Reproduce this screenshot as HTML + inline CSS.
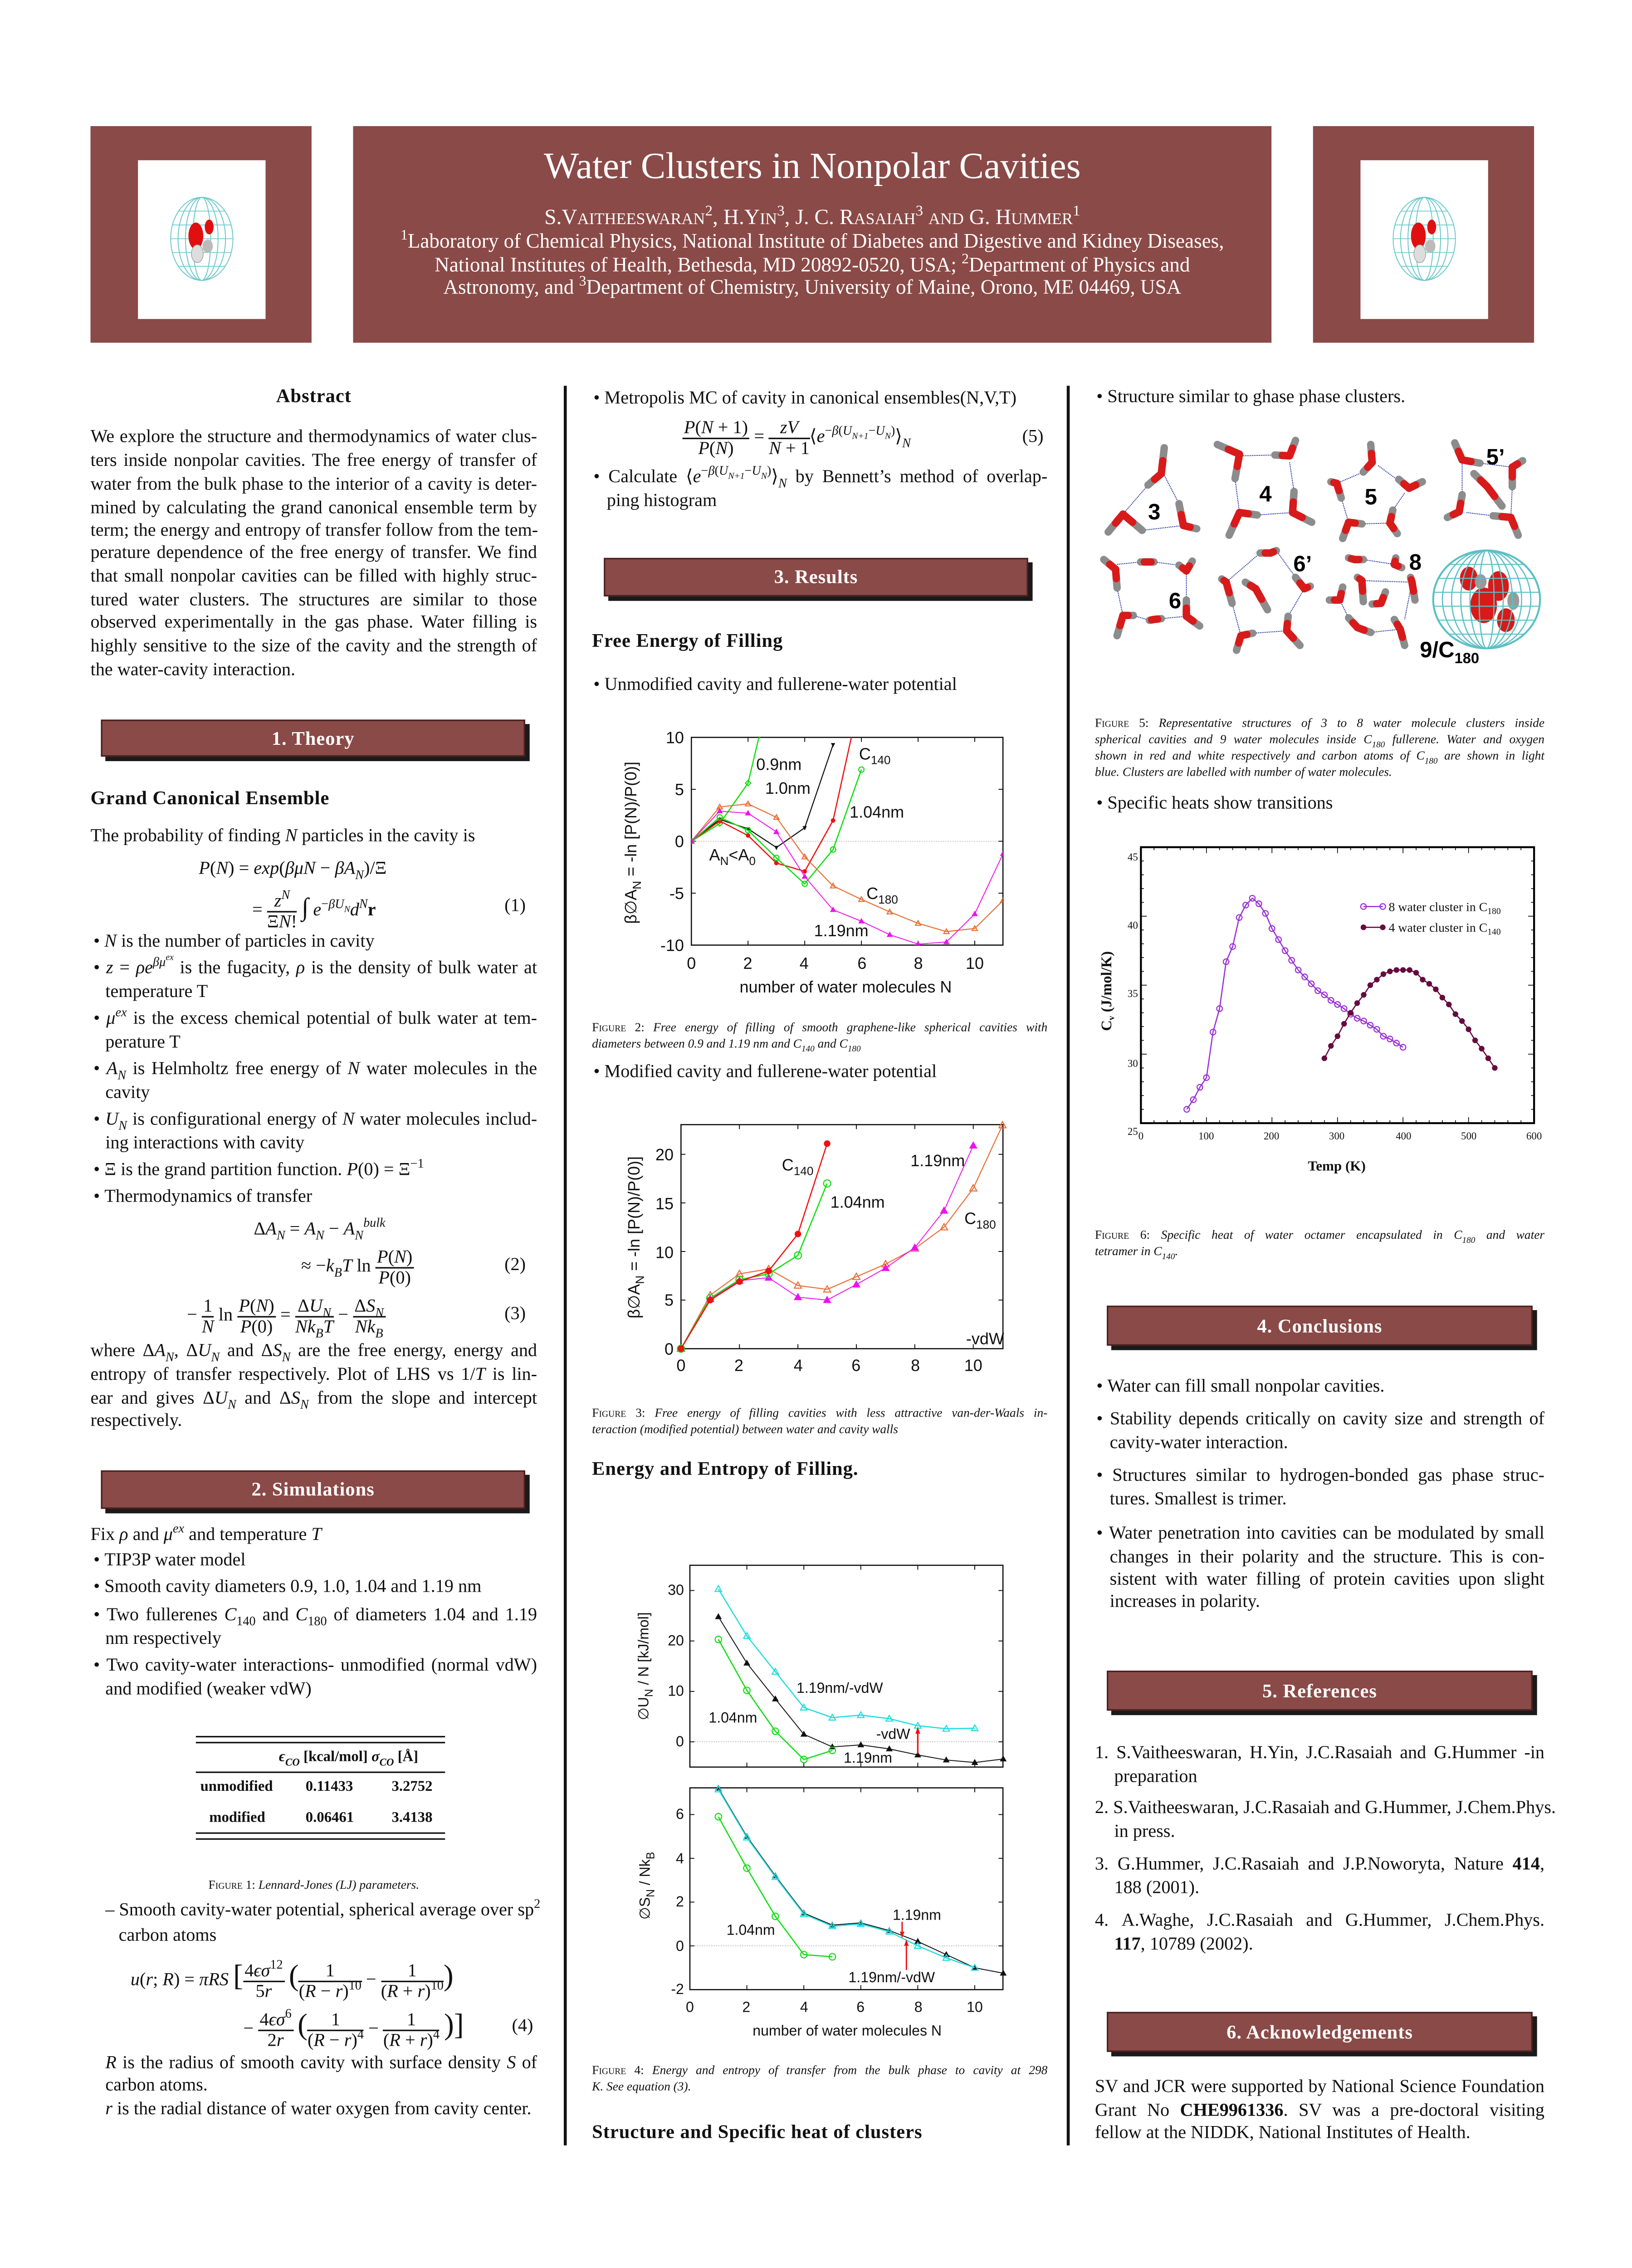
<!DOCTYPE html>
<html><head><meta charset="utf-8">
<style>
html,body{margin:0;padding:0;background:#fff;width:3598px;height:5090px;overflow:hidden}
#p{position:absolute;left:0;top:0;width:1100px;height:1556px;overflow:hidden;transform:scale(3.27091);transform-origin:0 0;font-family:"Liberation Serif",serif;font-size:12.3px;color:#111}
.a{position:absolute;white-space:nowrap;line-height:16px}
.j{text-align:justify;text-align-last:justify}
.box{position:absolute;background:#8a4a47;border:1px solid #4a2020;box-shadow:3px 3px 0 #1a1a1a;color:#fff;font-weight:bold;font-size:13px;text-align:center;letter-spacing:.3px}
.h{font-weight:bold;font-size:13px;letter-spacing:.3px}
i{font-style:italic}
.cap{font-size:8.4px;line-height:11px}
.sc{font-variant:small-caps}
.fr{display:inline-block;vertical-align:middle;text-align:center;line-height:13px}
.fr>span{display:block}
.fr>span:first-child{border-bottom:0.8px solid #111;padding:0 1px}
sub,sup{font-size:70%;line-height:0}
.vl{position:absolute;width:2px;background:#111;top:260px;height:1186px}
</style></head><body><div id="p">

<!-- header -->
<div style="position:absolute;left:61px;top:85px;width:149px;height:146px;background:#8a4a47"></div>
<div style="position:absolute;left:93px;top:108px;width:86px;height:107px;background:#fff"></div>
<div style="position:absolute;left:238px;top:85px;width:619px;height:146px;background:#8a4a47"></div>
<div style="position:absolute;left:885px;top:85px;width:149px;height:146px;background:#8a4a47"></div>
<div style="position:absolute;left:917px;top:108px;width:86px;height:107px;background:#fff"></div>
<div class="a" style="left:238px;width:619px;top:97px;text-align:center;color:#fff;font-size:25px;line-height:32px">Water Clusters in Nonpolar Cavities</div>
<div class="a" style="left:238px;width:619px;top:138px;text-align:center;color:#fff;font-size:14.5px;line-height:18px">S.V<span style="font-size:11px">AITHEESWARAN</span><sup>2</sup>, H.Y<span style="font-size:11px">IN</span><sup>3</sup>, J. C. R<span style="font-size:11px">ASAIAH</span><sup>3</sup> <span style="font-size:11px">AND</span> G. H<span style="font-size:11px">UMMER</span><sup>1</sup></div>
<div class="a" style="left:238px;width:619px;top:155px;text-align:center;color:#fff;font-size:13.8px;line-height:15.6px"><sup>1</sup>Laboratory of Chemical Physics, National Institute of Diabetes and Digestive and Kidney Diseases,<br>National Institutes of Health, Bethesda, MD 20892-0520, USA; <sup>2</sup>Department of Physics and<br>Astronomy, and <sup>3</sup>Department of Chemistry, University of Maine, Orono, ME 04469, USA</div>

<div class="vl" style="left:380px"></div>
<div class="vl" style="left:719px"></div>

<!-- COLUMN 1 -->
<div class="a h" style="left:61px;width:301px;top:259px;text-align:center">Abstract</div>
<div class="a j" style="left:61px;width:301px;top:286px">We explore the structure and thermodynamics of water clus-</div>
<div class="a j" style="left:61px;width:301px;top:302px">ters inside nonpolar cavities. The free energy of transfer of</div>
<div class="a j" style="left:61px;width:301px;top:318px">water from the bulk phase to the interior of a cavity is deter-</div>
<div class="a j" style="left:61px;width:301px;top:334px">mined by calculating the grand canonical ensemble term by</div>
<div class="a j" style="left:61px;width:301px;top:349px">term; the energy and entropy of transfer follow from the tem-</div>
<div class="a j" style="left:61px;width:301px;top:364px">perature dependence of the free energy of transfer. We find</div>
<div class="a j" style="left:61px;width:301px;top:380px">that small nonpolar cavities can be filled with highly struc-</div>
<div class="a j" style="left:61px;width:301px;top:396px">tured water clusters. The structures are similar to those</div>
<div class="a j" style="left:61px;width:301px;top:411px">observed experimentally in the gas phase. Water filling is</div>
<div class="a j" style="left:61px;width:301px;top:427px">highly sensitive to the size of the cavity and the strength of</div>
<div class="a" style="left:61px;top:443px">the water-cavity interaction.</div>

<div class="box" style="left:68px;top:485px;width:284px;height:23px;line-height:23px">1. Theory</div>

<div class="a h" style="left:61px;top:530px">Grand Canonical Ensemble</div>
<div class="a" style="left:61px;top:555px">The probability of finding <i>N</i> particles in the cavity is</div>
<div class="a" style="left:134px;top:577px"><i>P</i>(<i>N</i>) = <i>exp</i>(<i>βμN</i> − <i>βA<sub>N</sub></i>)/Ξ</div>
<div class="a" style="left:170px;top:599px;line-height:26px">= <span class="fr"><span><i>z<sup>N</sup></i></span><span>Ξ<i>N</i>!</span></span> <span style="font-size:17px">∫</span> <i>e</i><sup>−<i>βU<sub>N</sub></i></sup><i>d<sup>N</sup></i><b>r</b></div>
<div class="a" style="left:340px;top:602px">(1)</div>
<div class="a" style="left:63px;top:626px">•&nbsp;<i>N</i> is the number of particles in cavity</div>
<div class="a j" style="left:63px;width:299px;top:644px">•&nbsp;<i>z</i> = <i>ρe<sup>βμ<sup>ex</sup></sup></i> is the fugacity, <i>ρ</i> is the density of bulk water at</div>
<div class="a" style="left:71px;top:660px">temperature T</div>
<div class="a j" style="left:63px;width:299px;top:678px">•&nbsp;<i>μ<sup>ex</sup></i> is the excess chemical potential of bulk water at tem-</div>
<div class="a" style="left:71px;top:694px">perature T</div>
<div class="a j" style="left:63px;width:299px;top:712px">•&nbsp;<i>A<sub>N</sub></i> is Helmholtz free energy of <i>N</i> water molecules in the</div>
<div class="a" style="left:71px;top:728px">cavity</div>
<div class="a j" style="left:63px;width:299px;top:746px">•&nbsp;<i>U<sub>N</sub></i> is configurational energy of <i>N</i> water molecules includ-</div>
<div class="a" style="left:71px;top:762px">ing interactions with cavity</div>
<div class="a" style="left:63px;top:780px">•&nbsp;Ξ is the grand partition function. <i>P</i>(0) = Ξ<sup>−1</sup></div>
<div class="a" style="left:63px;top:798px">•&nbsp;Thermodynamics of transfer</div>
<div class="a" style="left:171px;top:820px">Δ<i>A<sub>N</sub></i> = <i>A<sub>N</sub></i> − <i>A<sub>N</sub><sup>bulk</sup></i></div>
<div class="a" style="left:203px;top:840px;line-height:26px">≈ −<i>k<sub>B</sub>T</i> ln <span class="fr"><span><i>P</i>(<i>N</i>)</span><span><i>P</i>(0)</span></span></div>
<div class="a" style="left:340px;top:844px">(2)</div>
<div class="a" style="left:126px;top:873px;line-height:26px">− <span class="fr"><span>1</span><span><i>N</i></span></span> ln <span class="fr"><span><i>P</i>(<i>N</i>)</span><span><i>P</i>(0)</span></span> = <span class="fr"><span>Δ<i>U<sub>N</sub></i></span><span><i>Nk<sub>B</sub>T</i></span></span> − <span class="fr"><span>Δ<i>S<sub>N</sub></i></span><span><i>Nk<sub>B</sub></i></span></span></div>
<div class="a" style="left:340px;top:877px">(3)</div>
<div class="a j" style="left:61px;width:301px;top:902px">where Δ<i>A<sub>N</sub></i>, Δ<i>U<sub>N</sub></i> and Δ<i>S<sub>N</sub></i> are the free energy, energy and</div>
<div class="a j" style="left:61px;width:301px;top:918px">entropy of transfer respectively. Plot of LHS vs 1/<i>T</i> is lin-</div>
<div class="a j" style="left:61px;width:301px;top:934px">ear and gives Δ<i>U<sub>N</sub></i> and Δ<i>S<sub>N</sub></i> from the slope and intercept</div>
<div class="a" style="left:61px;top:949px">respectively.</div>

<div class="box" style="left:68px;top:991px;width:284px;height:24px;line-height:24px">2. Simulations</div>

<div class="a" style="left:61px;top:1026px">Fix <i>ρ</i> and <i>μ<sup>ex</sup></i> and temperature <i>T</i></div>
<div class="a" style="left:63px;top:1043px">•&nbsp;TIP3P water model</div>
<div class="a" style="left:63px;top:1061px">•&nbsp;Smooth cavity diameters 0.9, 1.0, 1.04 and 1.19 nm</div>
<div class="a j" style="left:63px;width:299px;top:1080px">•&nbsp;Two fullerenes <i>C</i><sub>140</sub> and <i>C</i><sub>180</sub> of diameters 1.04 and 1.19</div>
<div class="a" style="left:71px;top:1096px">nm respectively</div>
<div class="a j" style="left:63px;width:299px;top:1114px">•&nbsp;Two cavity-water interactions- unmodified (normal vdW)</div>
<div class="a" style="left:71px;top:1130px">and modified (weaker vdW)</div>
<div style="position:absolute;left:132px;top:1170px;width:168px;height:3px;border-top:.8px solid #111;border-bottom:.8px solid #111"></div>
<div style="position:absolute;left:132px;top:1194px;width:168px;border-top:.8px solid #111"></div>
<div style="position:absolute;left:132px;top:1235px;width:168px;height:3px;border-top:.8px solid #111;border-bottom:.8px solid #111"></div>
<div class="a" style="left:188px;top:1177px;font-size:10px;font-weight:bold"><i>ϵ<sub>CO</sub></i> [kcal/mol] <i>σ<sub>CO</sub></i> [Å]</div>
<div class="a" style="left:135px;top:1197px;font-size:10px;font-weight:bold">unmodified</div>
<div class="a" style="left:206px;top:1197px;font-size:10px;font-weight:bold">0.11433</div>
<div class="a" style="left:264px;top:1197px;font-size:10px;font-weight:bold">3.2752</div>
<div class="a" style="left:141px;top:1218px;font-size:10px;font-weight:bold">modified</div>
<div class="a" style="left:206px;top:1218px;font-size:10px;font-weight:bold">0.06461</div>
<div class="a" style="left:264px;top:1218px;font-size:10px;font-weight:bold">3.4138</div>
<div class="a cap" style="left:61px;width:301px;top:1265px;text-align:center"><span class="sc">Figure</span> 1: <i>Lennard-Jones (LJ) parameters.</i></div>
<div class="a j" style="left:71px;width:291px;top:1279px">–&nbsp;Smooth cavity-water potential, spherical average over sp<sup>2</sup></div>
<div class="a" style="left:80px;top:1296px">carbon atoms</div>
<div class="a" style="left:88px;top:1318px;line-height:28px"><i>u</i>(<i>r</i>; <i>R</i>) = <i>πRS</i> <span style="font-size:20px">[</span><span class="fr"><span>4<i>ϵσ</i><sup>12</sup></span><span>5<i>r</i></span></span> <span style="font-size:20px">(</span><span class="fr"><span>1</span><span>(<i>R</i> − <i>r</i>)<sup>10</sup></span></span> − <span class="fr"><span>1</span><span>(<i>R</i> + <i>r</i>)<sup>10</sup></span></span><span style="font-size:20px">)</span></div>
<div class="a" style="left:164px;top:1351px;line-height:28px">− <span class="fr"><span>4<i>ϵσ</i><sup>6</sup></span><span>2<i>r</i></span></span> <span style="font-size:20px">(</span><span class="fr"><span>1</span><span>(<i>R</i> − <i>r</i>)<sup>4</sup></span></span> − <span class="fr"><span>1</span><span>(<i>R</i> + <i>r</i>)<sup>4</sup></span></span> <span style="font-size:20px">)]</span></div>
<div class="a" style="left:345px;top:1357px">(4)</div>
<div class="a j" style="left:71px;width:291px;top:1382px"><i>R</i> is the radius of smooth cavity with surface density <i>S</i> of</div>
<div class="a" style="left:71px;top:1397px">carbon atoms.</div>
<div class="a" style="left:71px;top:1413px"><i>r</i> is the radial distance of water oxygen from cavity center.</div>

<!-- COLUMN 2 -->
<div class="a" style="left:400px;top:260px">•&nbsp;Metropolis MC of cavity in canonical ensembles(N,V,T)</div>
<div class="a" style="left:460px;top:281px;line-height:26px"><span class="fr"><span><i>P</i>(<i>N</i> + 1)</span><span><i>P</i>(<i>N</i>)</span></span> = <span class="fr"><span><i>zV</i></span><span><i>N</i> + 1</span></span>⟨<i>e</i><sup>−<i>β</i>(<i>U<sub>N+1</sub></i>−<i>U<sub>N</sub></i>)</sup>⟩<sub><i>N</i></sub></div>
<div class="a" style="left:689px;top:286px">(5)</div>
<div class="a j" style="left:400px;width:306px;top:313px">•&nbsp;Calculate ⟨<i>e</i><sup>−<i>β</i>(<i>U<sub>N+1</sub></i>−<i>U<sub>N</sub></i>)</sup>⟩<sub><i>N</i></sub> by Bennett’s method of overlap-</div>
<div class="a" style="left:409px;top:329px">ping histogram</div>
<div class="box" style="left:407px;top:376px;width:284px;height:24px;line-height:24px">3. Results</div>
<div class="a h" style="left:399px;top:424px">Free Energy of Filling</div>
<div class="a" style="left:400px;top:453px">•&nbsp;Unmodified cavity and fullerene-water potential</div>
<div class="a cap j" style="left:399px;width:307px;top:687px"><span class="sc">Figure</span> 2: <i>Free energy of filling of smooth graphene-like spherical cavities with</i></div>
<div class="a cap" style="left:399px;top:698px"><i>diameters between 0.9 and 1.19 nm and C<sub>140</sub> and C<sub>180</sub></i></div>
<div class="a" style="left:400px;top:714px">•&nbsp;Modified cavity and fullerene-water potential</div>
<div class="a cap j" style="left:399px;width:307px;top:947px"><span class="sc">Figure</span> 3: <i>Free energy of filling cavities with less attractive van-der-Waals in-</i></div>
<div class="a cap" style="left:399px;top:958px"><i>teraction (modified potential) between water and cavity walls</i></div>
<div class="a h" style="left:399px;top:982px">Energy and Entropy of Filling.</div>
<div class="a cap j" style="left:399px;width:307px;top:1390px"><span class="sc">Figure</span> 4: <i>Energy and entropy of transfer from the bulk phase to cavity at 298</i></div>
<div class="a cap" style="left:399px;top:1401px"><i>K. See equation (3).</i></div>
<div class="a h" style="left:399px;top:1429px">Structure and Specific heat of clusters</div>

<!-- COLUMN 3 -->
<div class="a" style="left:739px;top:259px">•&nbsp;Structure similar to ghase phase clusters.</div>
<div class="a cap j" style="left:738px;width:303px;top:482px"><span class="sc">Figure</span> 5: <i>Representative structures of 3 to 8 water molecule clusters inside</i></div>
<div class="a cap j" style="left:738px;width:303px;top:493px"><i>spherical cavities and 9 water molecules inside C<sub>180</sub> fullerene. Water and oxygen</i></div>
<div class="a cap j" style="left:738px;width:303px;top:504px"><i>shown in red and white respectively and carbon atoms of C<sub>180</sub> are shown in light</i></div>
<div class="a cap" style="left:738px;top:515px"><i>blue. Clusters are labelled with number of water molecules.</i></div>
<div class="a" style="left:739px;top:533px">•&nbsp;Specific heats show transitions</div>
<div class="a cap j" style="left:738px;width:303px;top:827px"><span class="sc">Figure</span> 6: <i>Specific heat of water octamer encapsulated in C<sub>180</sub> and water</i></div>
<div class="a cap" style="left:738px;top:838px"><i>tetramer in C<sub>140</sub>.</i></div>
<div class="box" style="left:746px;top:880px;width:285px;height:25px;line-height:25px">4. Conclusions</div>
<div class="a" style="left:739px;top:926px">•&nbsp;Water can fill small nonpolar cavities.</div>
<div class="a j" style="left:739px;width:302px;top:948px">•&nbsp;Stability depends critically on cavity size and strength of</div>
<div class="a" style="left:748px;top:964px">cavity-water interaction.</div>
<div class="a j" style="left:739px;width:302px;top:986px">•&nbsp;Structures similar to hydrogen-bonded gas phase struc-</div>
<div class="a" style="left:748px;top:1002px">tures. Smallest is trimer.</div>
<div class="a j" style="left:739px;width:302px;top:1025px">•&nbsp;Water penetration into cavities can be modulated by small</div>
<div class="a j" style="left:748px;width:293px;top:1041px">changes in their polarity and the structure. This is con-</div>
<div class="a j" style="left:748px;width:293px;top:1056px">sistent with water filling of protein cavities upon slight</div>
<div class="a" style="left:748px;top:1071px">increases in polarity.</div>
<div class="box" style="left:746px;top:1126px;width:285px;height:25px;line-height:25px">5. References</div>
<div class="a j" style="left:738px;width:303px;top:1173px">1.&nbsp;S.Vaitheeswaran, H.Yin, J.C.Rasaiah and G.Hummer -in</div>
<div class="a" style="left:751px;top:1189px">preparation</div>
<div class="a j" style="left:738px;width:303px;top:1210px">2.&nbsp;S.Vaitheeswaran, J.C.Rasaiah and G.Hummer, J.Chem.Phys.</div>
<div class="a" style="left:751px;top:1226px">in press.</div>
<div class="a j" style="left:738px;width:303px;top:1248px">3.&nbsp;G.Hummer, J.C.Rasaiah and J.P.Noworyta, Nature <b>414</b>,</div>
<div class="a" style="left:751px;top:1264px">188 (2001).</div>
<div class="a j" style="left:738px;width:303px;top:1286px">4.&nbsp;A.Waghe, J.C.Rasaiah and G.Hummer, J.Chem.Phys.</div>
<div class="a" style="left:751px;top:1302px"><b>117</b>, 10789 (2002).</div>
<div class="box" style="left:746px;top:1356px;width:285px;height:25px;line-height:25px">6. Acknowledgements</div>
<div class="a j" style="left:738px;width:303px;top:1398px">SV and JCR were supported by National Science Foundation</div>
<div class="a j" style="left:738px;width:303px;top:1414px">Grant No <b>CHE9961336</b>. SV was a pre-doctoral visiting</div>
<div class="a" style="left:738px;top:1429px">fellow at the NIDDK, National Institutes of Health.</div>

<svg id="g" style="position:absolute;left:0;top:0" width="1100" height="1556" viewBox="0 0 1100 1556" font-family="Liberation Sans, sans-serif">
<defs>
<clipPath id="c2"><rect x="466" y="497" width="210" height="140"/></clipPath>
</defs>
<g font-size="11" fill="#111">
<text x="461" y="501" text-anchor="end">10</text><text x="461" y="536" text-anchor="end">5</text><text x="461" y="571" text-anchor="end">0</text><text x="461" y="606" text-anchor="end">-5</text><text x="461" y="641" text-anchor="end">-10</text>
<text x="466" y="653" text-anchor="middle">0</text><text x="504" y="653" text-anchor="middle">2</text><text x="542" y="653" text-anchor="middle">4</text><text x="581" y="653" text-anchor="middle">6</text><text x="619" y="653" text-anchor="middle">8</text><text x="657" y="653" text-anchor="middle">10</text>
<text x="570" y="669" text-anchor="middle">number of water molecules N</text>
<text transform="translate(429,568) rotate(-90)" text-anchor="middle">β∅A<tspan font-size="8" dy="3">N</tspan><tspan dy="-3"> = -ln [P(N)/P(0)]</tspan></text>
<text x="525" y="519" text-anchor="middle">0.9nm</text>
<text x="531" y="535" text-anchor="middle">1.0nm</text>
<text x="579" y="512">C<tspan font-size="8" dy="3">140</tspan></text>
<text x="591" y="551" text-anchor="middle">1.04nm</text>
<text x="478" y="580">A<tspan font-size="8" dy="3">N</tspan><tspan dy="-3">&lt;A</tspan><tspan font-size="8" dy="3">0</tspan></text>
<text x="584" y="606">C<tspan font-size="8" dy="3">180</tspan></text>
<text x="567" y="631" text-anchor="middle">1.19nm</text>
</g>
<g font-size="11" fill="#111">
<text x="454" y="913" text-anchor="end">0</text><text x="454" y="880" text-anchor="end">5</text><text x="454" y="848" text-anchor="end">10</text><text x="454" y="815" text-anchor="end">15</text><text x="454" y="782" text-anchor="end">20</text>
<text x="459" y="924" text-anchor="middle">0</text><text x="498" y="924" text-anchor="middle">2</text><text x="538" y="924" text-anchor="middle">4</text><text x="577" y="924" text-anchor="middle">6</text><text x="617" y="924" text-anchor="middle">8</text><text x="656" y="924" text-anchor="middle">10</text>
<text transform="translate(431,834) rotate(-90)" text-anchor="middle">β∅A<tspan font-size="8" dy="3">N</tspan><tspan dy="-3"> = -ln [P(N)/P(0)]</tspan></text>
<text x="527" y="789">C<tspan font-size="8" dy="3">140</tspan></text>
<text x="578" y="814" text-anchor="middle">1.04nm</text>
<text x="632" y="786" text-anchor="middle">1.19nm</text>
<text x="650" y="825">C<tspan font-size="8" dy="3">180</tspan></text>
<text x="664" y="906" text-anchor="middle">-vdW</text>
</g>
<g font-size="9.8" fill="#111">
<text x="461" y="1075" text-anchor="end">30</text><text x="461" y="1109" text-anchor="end">20</text><text x="461" y="1143" text-anchor="end">10</text><text x="461" y="1177" text-anchor="end">0</text>
<text x="461" y="1226" text-anchor="end">6</text><text x="461" y="1256" text-anchor="end">4</text><text x="461" y="1285" text-anchor="end">2</text><text x="461" y="1315" text-anchor="end">0</text><text x="461" y="1344" text-anchor="end">-2</text>
<text x="465" y="1356" text-anchor="middle">0</text><text x="503" y="1356" text-anchor="middle">2</text><text x="542" y="1356" text-anchor="middle">4</text><text x="580" y="1356" text-anchor="middle">6</text><text x="619" y="1356" text-anchor="middle">8</text><text x="657" y="1356" text-anchor="middle">10</text>
<text x="571" y="1372" text-anchor="middle">number of water molecules N</text>
<text transform="translate(437,1123) rotate(-90)" text-anchor="middle">∅U<tspan font-size="7.5" dy="3">N</tspan><tspan dy="-3"> / N [kJ/mol]</tspan></text>
<text transform="translate(438,1271) rotate(-90)" text-anchor="middle">∅S<tspan font-size="7.5" dy="3">N</tspan><tspan dy="-3"> / Nk</tspan><tspan font-size="7.5" dy="3">B</tspan></text>
<text x="566" y="1141" text-anchor="middle">1.19nm/-vdW</text>
<text x="494" y="1161" text-anchor="middle">1.04nm</text>
<text x="602" y="1172" text-anchor="middle">-vdW</text>
<text x="585" y="1188" text-anchor="middle">1.19nm</text>
<text x="618" y="1294" text-anchor="middle">1.19nm</text>
<text x="506" y="1304" text-anchor="middle">1.04nm</text>
<text x="601" y="1336" text-anchor="middle">1.19nm/-vdW</text>
</g>
<g font-family="Liberation Serif, serif" font-size="7" fill="#111">
<text x="767" y="580" text-anchor="end">45</text><text x="767" y="626" text-anchor="end">40</text><text x="767" y="672" text-anchor="end">35</text><text x="767" y="719" text-anchor="end">30</text><text x="767" y="765" text-anchor="end">25</text>
<text x="769" y="768" text-anchor="middle">0</text><text x="813" y="768" text-anchor="middle">100</text><text x="857" y="768" text-anchor="middle">200</text><text x="901" y="768" text-anchor="middle">300</text><text x="946" y="768" text-anchor="middle">400</text><text x="990" y="768" text-anchor="middle">500</text><text x="1034" y="768" text-anchor="middle">600</text>
<text x="901" y="789" text-anchor="middle" font-size="9.5" font-weight="bold">Temp (K)</text>
<text transform="translate(749,668) rotate(-90)" text-anchor="middle" font-size="10" font-weight="bold">C<tspan font-size="6" dy="2">v</tspan><tspan dy="-2">  (J/mol/K)</tspan></text>
<text x="936" y="614" font-size="8.5">8 water cluster in C<tspan font-size="6" dy="2">180</tspan></text>
<text x="936" y="628" font-size="8.5">4 water cluster in C<tspan font-size="6" dy="2">140</tspan></text>
</g>
<g font-weight="bold" fill="#000" font-size="15">
<text x="778" y="350" text-anchor="middle">3</text>
<text x="853" y="338" text-anchor="middle">4</text>
<text x="924" y="340" text-anchor="middle">5</text>
<text x="1008" y="313" text-anchor="middle">5’</text>
<text x="792" y="410" text-anchor="middle">6</text>
<text x="878" y="385" text-anchor="middle">6’</text>
<text x="954" y="384" text-anchor="middle">8</text>
<text x="957" y="443">9/C<tspan font-size="10" dy="4">180</tspan></text>
</g>
</svg>
</div>
<script>
const NS='http://www.w3.org/2000/svg',S=document.getElementById('g');
function el(n,a,par){const e=document.createElementNS(NS,n);for(const k in a)e.setAttribute(k,a[k]);(par||S).appendChild(e);return e;}
function mk(x,y,c,m,r,par){
 if(m=='o')el('circle',{cx:x,cy:y,r:r,fill:'none',stroke:c,'stroke-width':0.7},par);
 else if(m=='O')el('circle',{cx:x,cy:y,r:r,fill:c},par);
 else if(m=='t'||m=='T')el('polygon',{points:`${x},${y-r} ${x-r},${y+r*0.75} ${x+r},${y+r*0.75}`,fill:m=='T'?c:'none',stroke:c,'stroke-width':0.7},par);
 else if(m=='d')el('polygon',{points:`${x},${y-r} ${x-r},${y} ${x},${y+r} ${x+r},${y}`,fill:'none',stroke:c,'stroke-width':0.7},par);
 else if(m=='v')el('polygon',{points:`${x},${y+r} ${x-r*0.8},${y-r*0.6} ${x+r*0.8},${y-r*0.6}`,fill:c},par);
}
function ser(X,Y,pts,c,m,r,sw,clip){const g=el('g',clip?{'clip-path':'url(#'+clip+')'}:{});
 el('polyline',{points:pts.map(p=>X(p[0]).toFixed(2)+','+Y(p[1]).toFixed(2)).join(' '),fill:'none',stroke:c,'stroke-width':sw||0.8},g);
 pts.forEach(p=>{mk(X(p[0]),Y(p[1]),c,m,r,g);});}
function frame(x0,y0,x1,y1,xt,yt,X,Y,len,sw){
 el('rect',{x:x0,y:y0,width:x1-x0,height:y1-y0,fill:'none',stroke:'#111','stroke-width':sw||0.8});
 xt.forEach(v=>{const x=X(v);el('line',{x1:x,y1:y1,x2:x,y2:y1-len,stroke:'#111','stroke-width':0.6});el('line',{x1:x,y1:y0,x2:x,y2:y0+len,stroke:'#111','stroke-width':0.6});});
 yt.forEach(v=>{const y=Y(v);el('line',{x1:x0,y1:y,x2:x0+len,y2:y,stroke:'#111','stroke-width':0.6});el('line',{x1:x1,y1:y,x2:x1-len,y2:y,stroke:'#111','stroke-width':0.6});});}
function zero(x0,x1,y){el('line',{x1:x0,y1:y,x2:x1,y2:y,stroke:'#aaa','stroke-width':0.4,'stroke-dasharray':'0.8 0.8'});}
const G='#11dd11',R='#ee1111',O='#e8703a',M='#ee11ee',C='#22dddd',K='#111';
{const X=n=>466+n*19.1,Y=v=>567-v*7;
 zero(466,676,Y(0));
 frame(466,497,676,637,[0,2,4,6,8,10],[-10,-5,0,5,10],X,Y,3);
 ser(X,Y,[[0,0],[1,1.7],[2,5.6],[2.4,10.2]],G,'d',1.8,0.8,'c2');
 ser(X,Y,[[0,0],[1,2.1],[2,1.2],[3,-0.6],[4,1.3],[5,9.3]],K,'v',1.8,0.7,'c2');
 ser(X,Y,[[0,0],[1,1.95],[2,0.55],[3,-2.1],[4,-2.9],[5,2],[5.67,10.3]],R,'O',1.5,0.8,'c2');
 ser(X,Y,[[0,0],[1,2.3],[2,1.05],[3,-1.6],[4,-4.1],[5,-0.8],[6,6.9]],G,'o',1.8,0.8,'c2');
 ser(X,Y,[[0,0],[1,3.3],[2,3.6],[3,2.3],[4,-1.5],[5,-4.3],[6,-5.6],[7,-6.8],[8,-7.9],[9,-8.7],[10,-8.4],[11,-5.7]],O,'t',1.8,0.7,'c2');
 ser(X,Y,[[0,0],[1,2.9],[2,2.7],[3,0.9],[4,-3.4],[5,-6.6],[6,-7.7],[7,-9],[8,-9.9],[9,-9.7],[10,-7],[11,-1.2]],M,'T',1.5,0.6,'c2');}
{const X=n=>459+n*19.7,Y=v=>909-v*6.55;
 frame(459,758,676,909,[0,2,4,6,8,10],[0,5,10,15,20],X,Y,3);
 ser(X,Y,[[0,0],[1,5.5],[2,7.7],[3,8.2],[4,6.5],[5,6.1],[6,7.4],[7,8.7],[8,10.3],[9,12.5],[10,16.5],[11,23]],O,'t',2.4,0.7);
 ser(X,Y,[[0,0],[1,5.1],[2,7],[3,7.3],[4,5.3],[5,5],[6,6.6],[7,8.3],[8,10.4],[9,14.2],[10,20.9]],M,'T',2.2,0.6);
 ser(X,Y,[[0,0],[1,5.2],[2,7.1],[3,7.7],[4,9.6],[5,17]],G,'o',2.4,0.8);
 ser(X,Y,[[0,0],[1,5],[2,6.9],[3,8],[4,11.8],[5,21.1]],R,'O',2.2,0.8);}
{const X=n=>465+n*19.2,Y=v=>1174-v*3.4;
 zero(465,676,Y(0));
 frame(465,1055,676,1191,[0,2,4,6,8,10],[0,10,20,30],X,Y,3);
 ser(X,Y,[[1,30.3],[2,21],[3,13.9],[4,6.8],[5,4.8],[6,5.3],[7,4.6],[8,3.2],[9,2.6],[10,2.7]],C,'t',2.2,0.8);
 ser(X,Y,[[1,24.8],[2,15.6],[3,8.5],[4,1.5],[5,-1],[6,-0.6],[7,-1.4],[8,-2.6],[9,-3.6],[10,-4.1],[11,-3.4]],K,'T',1.7,0.6);
 ser(X,Y,[[1,20.3],[2,10.2],[3,2.1],[4,-3.5],[5,-1.7]],G,'o',2.2,0.8);
 el('line',{x1:X(8),y1:Y(-2.4),x2:X(8),y2:Y(2.4),stroke:'#e11','stroke-width':1});
 el('polygon',{points:`${X(8)},${Y(3)} ${X(8)-1.6},${Y(1.6)} ${X(8)+1.6},${Y(1.6)}`,fill:'#e11'});}
{const X=n=>465+n*19.2,Y=v=>1311.5-v*14.75;
 zero(465,676,Y(0));
 frame(465,1205,676,1341,[0,2,4,6,8,10],[-2,0,2,4,6],X,Y,3);
 ser(X,Y,[[1,7.2],[2,5],[3,3.2],[4,1.5],[5,0.95],[6,1.05],[7,0.7],[8,0.2],[9,-0.4],[10,-1],[11,-1.25]],K,'T',1.7,0.6);
 ser(X,Y,[[1,7.15],[2,4.95],[3,3.15],[4,1.45],[5,0.9],[6,1.0],[7,0.65],[8,0],[9,-0.55],[10,-1]],C,'t',2.2,0.8);
 ser(X,Y,[[1,5.9],[2,3.55],[3,1.35],[4,-0.4],[5,-0.5]],G,'o',2.2,0.8);
 const a=X(7.45),b=X(7.6);
 el('line',{x1:a,y1:Y(1.1),x2:a,y2:Y(0.55),stroke:'#e11','stroke-width':0.9});
 el('polygon',{points:`${a},${Y(0.35)} ${a-1.5},${Y(0.65)} ${a+1.5},${Y(0.65)}`,fill:'#e11'});
 el('line',{x1:b,y1:Y(-1.1),x2:b,y2:Y(0.05),stroke:'#e11','stroke-width':0.9});
 el('polygon',{points:`${b},${Y(0.3)} ${b-1.5},${Y(0)} ${b+1.5},${Y(0)}`,fill:'#e11'});}
{const X=t=>769+t*0.44167,Y=c=>757-(c-25)*9.3;
 el('rect',{x:769,y:571,width:265,height:186,fill:'none',stroke:'#000','stroke-width':1.3});
 for(let t=0;t<=600;t+=20){const x=X(t),l=t%100==0?4:2;el('line',{x1:x,y1:757,x2:x,y2:757-l,stroke:'#000','stroke-width':0.5});el('line',{x1:x,y1:571,x2:x,y2:571+l,stroke:'#000','stroke-width':0.5});}
 for(let c=25;c<=45;c++){const y=Y(c),l=c%5==0?4:2;el('line',{x1:769,y1:y,x2:769+l,y2:y,stroke:'#000','stroke-width':0.5});el('line',{x1:1034,y1:y,x2:1034-l,y2:y,stroke:'#000','stroke-width':0.5});}
 const a=[26.0,26.7,27.6,28.3,31.6,33.3,36.7,37.8,39.9,40.8,41.3,40.9,40.2,39.1,38.3,37.5,36.8,36.1,35.6,35.1,34.6,34.3,33.9,33.6,33.3,32.9,32.6,32.4,32.1,31.8,31.3,31.1,30.8,30.5];
 const b=[29.7,30.6,31.3,32.2,33.0,33.7,34.3,35.0,35.4,35.8,36.0,36.1,36.1,36.1,35.9,35.4,35.1,34.7,34.1,33.6,32.9,32.4,31.8,31.0,30.4,29.7,29.0];
 ser(X,Y,a.map((v,i)=>[70+10*i,v]),'#9a2fd6','o',1.9,0.8);
 ser(X,Y,b.map((v,i)=>[280+10*i,v]),'#660a40','O',1.9,0.8);
 el('line',{x1:919,y1:611,x2:932,y2:611,stroke:'#9a2fd6','stroke-width':0.8});mk(919,611,'#9a2fd6','o',1.9);mk(932,611,'#9a2fd6','o',1.9);
 el('line',{x1:919,y1:625,x2:932,y2:625,stroke:'#660a40','stroke-width':0.8});mk(919,625,'#660a40','O',1.9);mk(932,625,'#660a40','O',1.9);}
{const tx=zx=>740+zx*0.1988,ty=zy=>284.3+zy*0.1092;
 const W=[[215,320,225,160,170,390],[85,570,35,680,150,670],[290,640,275,505,335,660],
 [480,200,405,140,465,350],[650,210,670,115,600,205],[480,560,445,700,540,575],[660,560,665,430,725,620],
 [930,250,925,140,900,310],[810,380,790,370,825,470],[1055,410,1020,355,1100,370],[850,620,830,720,895,630],[990,625,1000,545,1015,690],
 [1235,235,1210,130,1295,255],[1320,400,1275,320,1370,520],[1405,280,1440,240,1405,400],[1225,555,1235,450,1185,590],[1400,590,1340,580,1425,700],
 [60,910,20,850,65,1025],[170,865,145,865,190,865],[300,920,275,885,320,860],[85,1195,65,1320,120,1195],[190,1220,175,1225,215,1215],[300,1200,300,1100,345,1260],
 [585,810,550,810,605,795],[435,990,420,970,455,1120],[535,1030,500,990,575,1160],[700,1030,670,960,720,1015],[640,1290,645,1200,685,1380],[485,1320,470,1410,525,1305],
 [870,850,850,840,900,850],[1005,880,1010,840,1030,900],[895,980,880,960,900,1110],[1065,990,1060,960,1075,1100],[820,1100,785,1100,830,1020],[960,1120,930,1125,975,1050],[880,1270,850,1210,925,1300],[1025,1280,1005,1220,1040,1380]];
 const hb=[[170,390,85,570],[150,670,290,640],[225,330,275,505],[480,210,600,205],[465,350,480,560],[650,250,665,430],[540,575,660,560],[810,380,900,310],[950,270,1055,410],[825,470,850,620],[895,630,990,625],[1040,440,1000,545],[1295,255,1405,280],[1235,260,1235,450],[1405,400,1400,590],[1250,560,1340,580],[65,1025,85,1195],[300,920,300,1100],[65,880,145,865],[190,865,275,885],[120,1195,175,1225],[215,1215,300,1200],[455,1120,485,1320],[525,1305,640,1290],[435,990,550,810],[605,795,670,960],[700,1030,645,1200],[900,850,1005,880],[895,980,1065,990],[850,1210,820,1100],[925,1300,1025,1280],[1065,990,1040,1220]];
 hb.forEach(h=>el('line',{x1:tx(h[0]),y1:ty(h[1]),x2:tx(h[2]),y2:ty(h[3]),stroke:'#1a2aa0','stroke-width':0.6,'stroke-dasharray':'0.7 0.5'}));
 W.forEach(w=>{const ox=tx(w[0]),oy=ty(w[1]);for(const k of [2,4]){const hx=tx(w[k]),hy=ty(w[k+1]);
  el('line',{x1:ox,y1:oy,x2:hx,y2:hy,stroke:'#8c8c8c','stroke-width':5,'stroke-linecap':'round'});
  el('line',{x1:ox,y1:oy,x2:(ox+hx)/2,y2:(oy+hy)/2,stroke:'#d81a1a','stroke-width':5,'stroke-linecap':'round'});}});
 const cx=1002,cy=404;
 [[1010,395,7,10],[1000,408,9,12],[990,390,6,8],[1015,418,6,8]].forEach(b=>el('ellipse',{cx:b[0],cy:b[1],rx:b[2],ry:b[3],fill:'#d81a1a'}));
 [[998,392,4,5],[1020,405,4,6]].forEach(b=>el('ellipse',{cx:b[0],cy:b[1],rx:b[2],ry:b[3],fill:'#999'}));
 for(let i=0;i<6;i++){el('ellipse',{cx:cx,cy:cy,rx:36-i*6.2,ry:33,fill:'none',stroke:'#5cc0c4','stroke-width':0.8});}
 for(let i=1;i<7;i++){const yy=cy-33+i*9.4;const rx=36*Math.sqrt(Math.max(0,1-Math.pow((yy-cy)/33,2)));el('line',{x1:cx-rx,y1:yy,x2:cx+rx,y2:yy,stroke:'#5cc0c4','stroke-width':0.7});}
 el('ellipse',{cx:cx,cy:cy,rx:36,ry:33,fill:'none',stroke:'#5cc0c4','stroke-width':1.3});
 [136,960].forEach(x=>{const y=161;
  for(let i=0;i<4;i++)el('ellipse',{cx:x,cy:y,rx:21-i*5,ry:28,fill:'none',stroke:'#6cc8cc','stroke-width':0.6});
  for(let i=1;i<6;i++){const yy=y-28+i*9.3;const rx=21*Math.sqrt(Math.max(0,1-Math.pow((yy-y)/28,2)));el('line',{x1:x-rx,y1:yy,x2:x+rx,y2:yy,stroke:'#6cc8cc','stroke-width':0.5});}
  el('ellipse',{cx:x-4,cy:y-2,rx:5,ry:9,fill:'#e01010'});el('ellipse',{cx:x+5,cy:y-8,rx:3,ry:5,fill:'#e01010'});
  el('ellipse',{cx:x-3,cy:y+10,rx:4,ry:6,fill:'#ddd',stroke:'#999','stroke-width':0.4});el('ellipse',{cx:x+4,cy:y+5,rx:3.5,ry:4.5,fill:'#bbb'});});
}
</script>
</body></html>
